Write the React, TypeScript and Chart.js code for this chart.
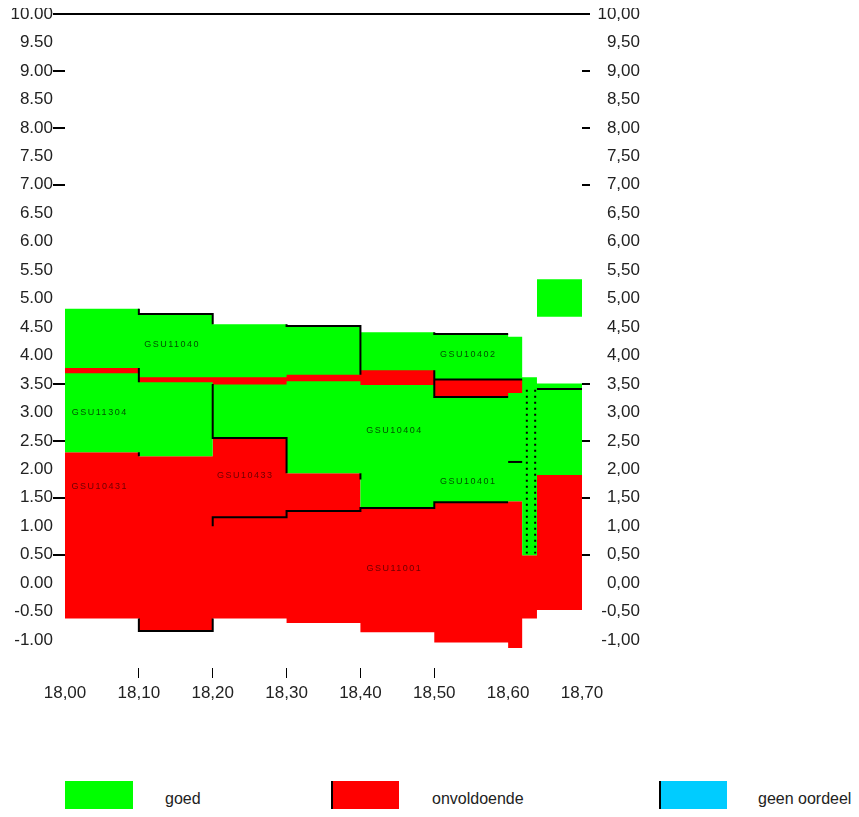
import React, { useEffect, useRef } from "react";
import { Chart, registerables } from "chart.js";

Chart.register(...registerables);

// ---- data ----
const colStart = [18.0, 18.1, 18.2, 18.3, 18.4, 18.5, 18.6, 18.619, 18.639];
const xEnd = 18.7;
const greenTop = [4.82, 4.73, 4.55, 4.52, 4.41, 4.38, 4.33, 3.62, 3.51];
const bandTop = [3.78, 3.62, 3.62, 3.66, 3.74, 3.58, 3.58, 3.62, 3.51];
const bandBottom = [3.69, 3.53, 3.49, 3.55, 3.48, 3.27, 3.34, 3.62, 3.51];
const greenBottom = [2.3, 2.23, 2.55, 1.93, 1.32, 1.42, 1.44, 0.49, 1.9];
const redBottom = [-0.62, -0.84, -0.62, -0.7, -0.86, -1.04, -1.14, -0.62, -0.47];

const squareX = [18.639, 18.7];
const squareTop = 5.34;
const squareBottom = 4.68;

const outlines: number[][][] = [
  [[18.1, 4.82], [18.1, 4.73], [18.2, 4.73], [18.2, 4.55]],
  [[18.1, 3.78], [18.1, 3.53]],
  [[18.1, 2.3], [18.1, 2.23]],
  [[18.2, 3.5], [18.2, 2.55], [18.3, 2.55], [18.3, 1.93]],
  [[18.2, 1.0], [18.2, 1.16], [18.3, 1.16], [18.3, 1.27], [18.4, 1.27], [18.4, 1.32], [18.5, 1.32], [18.5, 1.42], [18.6, 1.42]],
  [[18.1, -0.62], [18.1, -0.84], [18.2, -0.84], [18.2, -0.62]],
  [[18.3, 4.55], [18.3, 4.52], [18.4, 4.52], [18.4, 3.66]],
  [[18.4, 1.93], [18.4, 1.82]],
  [[18.5, 4.41], [18.5, 4.38], [18.6, 4.38]],
  [[18.5, 3.74], [18.5, 3.27], [18.6, 3.27]],
  [[18.5, 3.58], [18.619, 3.58]],
  [[18.6, 2.13], [18.619, 2.13]],
  [[18.639, 3.41], [18.7, 3.41]],
];
const dottedLines: number[][][] = [
  [[18.6253, 3.4], [18.6253, 0.52]],
  [[18.6366, 3.4], [18.6366, 0.52]],
];

const labelTexts = ["GSU11040", "GSU11304", "GSU10431", "GSU10433", "GSU10404", "GSU10402", "GSU10401", "GSU11001"];
const labelX = [18.145, 18.047, 18.047, 18.244, 18.446, 18.546, 18.546, 18.446];
const labelY = [4.2, 2.99, 1.7, 1.9, 2.68, 4.01, 1.78, 0.26];
const labelOnRed = [false, false, true, true, false, false, false, true];

const yTickValues = [-1, -0.5, 0, 0.5, 1, 1.5, 2, 2.5, 3, 3.5, 4, 4.5, 5, 5.5, 6, 6.5, 7, 7.5, 8, 8.5, 9, 9.5, 10];
const yMarkedTicks = [10, 9, 8, 7, 3.5, 2.5, 1.5, 0.5];
const xTickValues = [18.0, 18.1, 18.2, 18.3, 18.4, 18.5, 18.6, 18.7];
const xMarkedTicks = [18.1, 18.2, 18.3, 18.4, 18.5];
const yMin = -1.49;
const yMax = 10;
const xMin = 18.0;
const xMax = 18.7;

const legendLabels = ["goed", "onvoldoende", "geen oordeel"];
const legendColors = ["#00ff00", "#ff0000", "#00ccff"];
const legendEdge = [false, true, true];

// ---- styling ----
const GREEN = "#00ff00";
const RED = "#ff0000";
const FONT = '"Liberation Sans", Arial, sans-serif';
const TXT = "#222222";

const isIn = (v: number, list: number[]) => list.some((m) => Math.abs(m - v) < 1e-6);

function steps(vals: number[]) {
  const pts = colStart.map((x, i) => ({ x, y: vals[i] }));
  pts.push({ x: xEnd, y: vals[vals.length - 1] });
  return pts;
}
const toPts = (arr: number[][]) => arr.map(([x, y]) => ({ x, y }));

const labelPlugin = {
  id: "areaLabels",
  afterDatasetsDraw(chart: any) {
    const { ctx, scales } = chart;
    const xs = scales.x;
    const ys = scales.y;
    ctx.save();
    ctx.font = `9px ${FONT}`;
    try {
      (ctx as any).letterSpacing = "1.5px";
    } catch (e) {}
    ctx.textAlign = "center";
    ctx.textBaseline = "middle";
    labelTexts.forEach((t, i) => {
      ctx.fillStyle = labelOnRed[i] ? "#6a0000" : "#005000";
      ctx.fillText(t, xs.getPixelForValue(labelX[i]), ys.getPixelForValue(labelY[i]));
    });
    ctx.restore();
  },
};

export default function App() {
  const ref = useRef<HTMLCanvasElement | null>(null);

  useEffect(() => {
    document.documentElement.style.overflow = "hidden";
    document.body.style.overflow = "hidden";
    const canvas = ref.current;
    if (!canvas) return;

    const base = { pointRadius: 0, pointHoverRadius: 0, borderWidth: 0, borderColor: "transparent" };
    const datasets: any[] = [
      { ...base, label: "bandTop", data: steps(bandTop), stepped: "before", fill: 1, backgroundColor: RED },
      { ...base, label: "bandBottom", data: steps(bandBottom), stepped: "before", fill: false },
      { ...base, label: "greenTop", data: steps(greenTop), stepped: "before", fill: 3, backgroundColor: GREEN },
      { ...base, label: "greenBottom", data: steps(greenBottom), stepped: "before", fill: 4, backgroundColor: RED },
      { ...base, label: "redBottom", data: steps(redBottom), stepped: "before", fill: false },
      {
        ...base,
        label: "square",
        data: squareX.map((x) => ({ x, y: squareTop })),
        fill: { value: squareBottom },
        backgroundColor: GREEN,
      },
    ];
    outlines.forEach((o, i) =>
      datasets.push({
        label: "outline" + i,
        data: toPts(o),
        borderColor: "#000",
        borderWidth: 2,
        pointRadius: 0,
        fill: false,
        order: -1,
      })
    );
    dottedLines.forEach((o, i) =>
      datasets.push({
        label: "dotted" + i,
        data: toPts(o),
        borderColor: "#000",
        borderWidth: 2,
        borderDash: [2, 4],
        pointRadius: 0,
        fill: false,
        order: -1,
      })
    );

    const yAxisBase = (right: boolean) => ({
      type: "linear",
      position: right ? "right" : "left",
      min: yMin,
      max: yMax,
      afterBuildTicks: (s: any) => {
        s.ticks = yTickValues.map((v) => ({ value: v }));
      },
      afterFit: (s: any) => {
        s.width = right ? 58 : 57;
        s.paddingTop = 0;
        s.paddingBottom = 0;
      },
      border: { display: false },
      grid: {
        drawOnChartArea: !right,
        tickLength: right ? 8 : 12,
        color: (c: any) => (c.tick && Math.abs(c.tick.value - 10) < 1e-6 ? "#000" : "transparent"),
        tickColor: (c: any) => (c.tick && isIn(c.tick.value, yMarkedTicks) ? "#000" : "transparent"),
        lineWidth: 2,
      },
      ticks: {
        padding: 0,
        crossAlign: right ? "far" : "near",
        color: TXT,
        font: { family: FONT, size: 17 },
        autoSkip: false,
        callback: (v: any) => {
          const s = Number(v).toFixed(2);
          return right ? s.replace(".", ",") : s;
        },
      },
    });

    const chart = new Chart(canvas, {
      type: "line",
      data: { datasets },
      plugins: [labelPlugin],
      options: {
        responsive: false,
        maintainAspectRatio: false,
        animation: false,
        layout: { padding: { top: 6, right: 211, bottom: 4, left: 0 } },
        plugins: { legend: { display: false }, tooltip: { enabled: false } },
        elements: { line: { tension: 0 } },
        scales: {
          x: {
            type: "linear",
            min: xMin,
            max: xMax,
            afterBuildTicks: (s: any) => {
              s.ticks = xTickValues.map((v) => ({ value: v }));
            },
            afterFit: (s: any) => {
              s.height = 36;
              s.paddingLeft = 0;
              s.paddingRight = 0;
            },
            border: { display: false },
            grid: {
              drawOnChartArea: false,
              tickLength: 10,
              color: (c: any) => (c.tick && isIn(c.tick.value, xMarkedTicks) ? "#000" : "transparent"),
              lineWidth: 1,
            },
            ticks: {
              padding: 5,
              maxRotation: 0,
              autoSkip: false,
              color: TXT,
              font: { family: FONT, size: 17 },
              callback: (v: any) => Number(v).toFixed(2).replace(".", ","),
            },
          },
          y: yAxisBase(false) as any,
          y2: yAxisBase(true) as any,
        },
      } as any,
    });
    return () => chart.destroy();
  }, []);

  const boxLeft = [57, 323, 651];
  const textLeft = [157, 424, 750];

  return (
    <div style={{ position: "relative", width: 843, height: 801 }}>
      <canvas ref={ref} width={843} height={700} style={{ display: "block", width: 843, height: 700 }} />
      {legendLabels.map((l, i) => (
        <React.Fragment key={l}>
          <div
            style={{
              position: "absolute",
              left: boxLeft[i],
              top: 773,
              width: 68,
              height: 35,
              background: legendColors[i],
              borderLeft: legendEdge[i] ? "2px solid #000" : "none",
              boxSizing: "border-box",
            }}
          />
          <div
            style={{
              position: "absolute",
              left: textLeft[i],
              top: 773,
              height: 35,
              lineHeight: "35px",
              fontFamily: FONT,
              fontSize: 16,
              color: TXT,
              whiteSpace: "nowrap",
            }}
          >
            {l}
          </div>
        </React.Fragment>
      ))}
    </div>
  );
}
